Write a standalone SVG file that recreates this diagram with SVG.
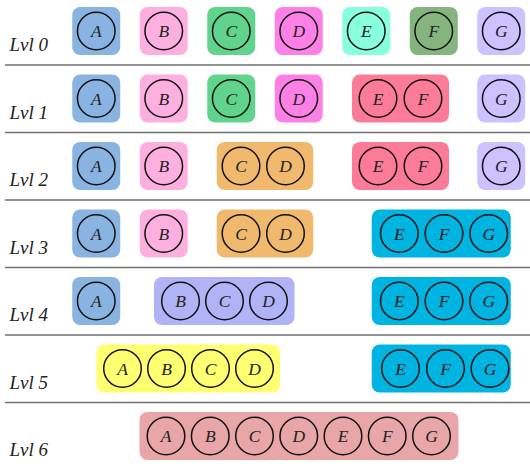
<svg xmlns="http://www.w3.org/2000/svg" width="530" height="469" viewBox="0 0 530 469">
<style>
.bg{fill:#ffffff}
.sep{stroke:#707070;stroke-width:1.6}
.lbl{font-family:"Liberation Serif",serif;font-style:italic;font-size:19px;fill:#222}
.n{fill:none;stroke:#111;stroke-width:1.5}
.t{font-family:"Liberation Serif",serif;font-style:italic;font-size:17.5px;fill:#222;text-anchor:middle}
.cA{fill:#89b4e1}.cB{fill:#fdb0e0}.cC{fill:#60d38c}.cD{fill:#fd80e6}.cE{fill:#88ffde}.cF{fill:#86b47e}.cG{fill:#cdc1ff}
.cEF{fill:#fc7b99}.cCD{fill:#f0b96e}.cEFG{fill:#00b4e1}.cBCD{fill:#b0b4f6}.cABCD{fill:#ffff72}.cALL{fill:#e8a6a8}
</style>
<rect class="bg" x="0" y="0" width="530" height="469"/>
<g id="separators">
<line class="sep" x1="5" y1="65" x2="530" y2="65"/>
<line class="sep" x1="5" y1="132.5" x2="530" y2="132.5"/>
<line class="sep" x1="5" y1="200" x2="530" y2="200"/>
<line class="sep" x1="5" y1="267.5" x2="530" y2="267.5"/>
<line class="sep" x1="5" y1="335" x2="530" y2="335"/>
<line class="sep" x1="5" y1="402.5" x2="530" y2="402.5"/>
</g>
<g id="labels">
<text class="lbl" x="9.5" y="51">Lvl 0</text>
<text class="lbl" x="9.5" y="118.5">Lvl 1</text>
<text class="lbl" x="9.5" y="186">Lvl 2</text>
<text class="lbl" x="9.5" y="253.5">Lvl 3</text>
<text class="lbl" x="9.5" y="321">Lvl 4</text>
<text class="lbl" x="9.5" y="388.5">Lvl 5</text>
<text class="lbl" x="9.5" y="456">Lvl 6</text>
</g>
<!-- Level 0 -->
<g id="l0-A"><rect class="cA" x="72.25" y="7" width="48" height="48" rx="8"/><circle class="n" cx="96.25" cy="31" r="18.8"/><text class="t" x="96.25" y="37">A</text></g>
<g id="l0-B"><rect class="cB" x="139.75" y="7" width="48" height="48" rx="8"/><circle class="n" cx="163.75" cy="31" r="18.8"/><text class="t" x="163.75" y="37">B</text></g>
<g id="l0-C"><rect class="cC" x="207.25" y="7" width="48" height="48" rx="8"/><circle class="n" cx="231.25" cy="31" r="18.8"/><text class="t" x="231.25" y="37">C</text></g>
<g id="l0-D"><rect class="cD" x="274.75" y="7" width="48" height="48" rx="8"/><circle class="n" cx="298.75" cy="31" r="18.8"/><text class="t" x="298.75" y="37">D</text></g>
<g id="l0-E"><rect class="cE" x="342.25" y="7" width="48" height="48" rx="8"/><circle class="n" cx="366.25" cy="31" r="18.8"/><text class="t" x="366.25" y="37">E</text></g>
<g id="l0-F"><rect class="cF" x="409.75" y="7" width="48" height="48" rx="8"/><circle class="n" cx="433.75" cy="31" r="18.8"/><text class="t" x="433.75" y="37">F</text></g>
<g id="l0-G"><rect class="cG" x="477.25" y="7" width="48" height="48" rx="8"/><circle class="n" cx="501.25" cy="31" r="18.8"/><text class="t" x="501.25" y="37">G</text></g>
<!-- Level 1 -->
<g id="l1-A"><rect class="cA" x="72.25" y="74.5" width="48" height="48" rx="8"/><circle class="n" cx="96.25" cy="98.5" r="18.8"/><text class="t" x="96.25" y="104.5">A</text></g>
<g id="l1-B"><rect class="cB" x="139.75" y="74.5" width="48" height="48" rx="8"/><circle class="n" cx="163.75" cy="98.5" r="18.8"/><text class="t" x="163.75" y="104.5">B</text></g>
<g id="l1-C"><rect class="cC" x="207.25" y="74.5" width="48" height="48" rx="8"/><circle class="n" cx="231.25" cy="98.5" r="18.8"/><text class="t" x="231.25" y="104.5">C</text></g>
<g id="l1-D"><rect class="cD" x="274.75" y="74.5" width="48" height="48" rx="8"/><circle class="n" cx="298.75" cy="98.5" r="18.8"/><text class="t" x="298.75" y="104.5">D</text></g>
<g id="l1-EF"><rect class="cEF" x="352" y="74.5" width="97" height="48" rx="8"/><circle class="n" cx="378" cy="98.5" r="18.8"/><text class="t" x="378" y="104.5">E</text><circle class="n" cx="423" cy="98.5" r="18.8"/><text class="t" x="423" y="104.5">F</text></g>
<g id="l1-G"><rect class="cG" x="477.25" y="74.5" width="48" height="48" rx="8"/><circle class="n" cx="501.25" cy="98.5" r="18.8"/><text class="t" x="501.25" y="104.5">G</text></g>
<!-- Level 2 -->
<g id="l2-A"><rect class="cA" x="72.25" y="142" width="48" height="48" rx="8"/><circle class="n" cx="96.25" cy="166" r="18.8"/><text class="t" x="96.25" y="172">A</text></g>
<g id="l2-B"><rect class="cB" x="139.75" y="142" width="48" height="48" rx="8"/><circle class="n" cx="163.75" cy="166" r="18.8"/><text class="t" x="163.75" y="172">B</text></g>
<g id="l2-CD"><rect class="cCD" x="216.75" y="142" width="96.5" height="48" rx="8"/><circle class="n" cx="241" cy="166" r="18.8"/><text class="t" x="241" y="172">C</text><circle class="n" cx="285.5" cy="166" r="18.8"/><text class="t" x="285.5" y="172">D</text></g>
<g id="l2-EF"><rect class="cEF" x="352" y="142" width="97" height="48" rx="8"/><circle class="n" cx="378" cy="166" r="18.8"/><text class="t" x="378" y="172">E</text><circle class="n" cx="423" cy="166" r="18.8"/><text class="t" x="423" y="172">F</text></g>
<g id="l2-G"><rect class="cG" x="477.25" y="142" width="48" height="48" rx="8"/><circle class="n" cx="501.25" cy="166" r="18.8"/><text class="t" x="501.25" y="172">G</text></g>
<!-- Level 3 -->
<g id="l3-A"><rect class="cA" x="72.25" y="209.5" width="48" height="48" rx="8"/><circle class="n" cx="96.25" cy="233.5" r="18.8"/><text class="t" x="96.25" y="239.5">A</text></g>
<g id="l3-B"><rect class="cB" x="139.75" y="209.5" width="48" height="48" rx="8"/><circle class="n" cx="163.75" cy="233.5" r="18.8"/><text class="t" x="163.75" y="239.5">B</text></g>
<g id="l3-CD"><rect class="cCD" x="216.75" y="209.5" width="96.5" height="48" rx="8"/><circle class="n" cx="241" cy="233.5" r="18.8"/><text class="t" x="241" y="239.5">C</text><circle class="n" cx="285.5" cy="233.5" r="18.8"/><text class="t" x="285.5" y="239.5">D</text></g>
<g id="l3-EFG"><rect class="cEFG" x="371.75" y="209.5" width="139" height="48" rx="8"/><circle class="n" cx="399.3" cy="233.5" r="18.8"/><text class="t" x="399.3" y="239.5">E</text><circle class="n" cx="444" cy="233.5" r="18.8"/><text class="t" x="444" y="239.5">F</text><circle class="n" cx="488.7" cy="233.5" r="18.8"/><text class="t" x="488.7" y="239.5">G</text></g>
<!-- Level 4 -->
<g id="l4-A"><rect class="cA" x="72.25" y="277" width="48" height="48" rx="8"/><circle class="n" cx="96.25" cy="301" r="18.8"/><text class="t" x="96.25" y="307">A</text></g>
<g id="l4-BCD"><rect class="cBCD" x="154" y="277" width="140.5" height="48" rx="8"/><circle class="n" cx="180.5" cy="301" r="18.8"/><text class="t" x="180.5" y="307">B</text><circle class="n" cx="224.5" cy="301" r="18.8"/><text class="t" x="224.5" y="307">C</text><circle class="n" cx="268.5" cy="301" r="18.8"/><text class="t" x="268.5" y="307">D</text></g>
<g id="l4-EFG"><rect class="cEFG" x="371.75" y="277" width="139" height="48" rx="8"/><circle class="n" cx="399.3" cy="301" r="18.8"/><text class="t" x="399.3" y="307">E</text><circle class="n" cx="444" cy="301" r="18.8"/><text class="t" x="444" y="307">F</text><circle class="n" cx="488.7" cy="301" r="18.8"/><text class="t" x="488.7" y="307">G</text></g>
<!-- Level 5 -->
<g id="l5-ABCD"><rect class="cABCD" x="96.5" y="344.5" width="183.5" height="48" rx="8"/><circle class="n" cx="122.5" cy="368.5" r="18.8"/><text class="t" x="122.5" y="374.5">A</text><circle class="n" cx="166.5" cy="368.5" r="18.8"/><text class="t" x="166.5" y="374.5">B</text><circle class="n" cx="210.5" cy="368.5" r="18.8"/><text class="t" x="210.5" y="374.5">C</text><circle class="n" cx="254.5" cy="368.5" r="18.8"/><text class="t" x="254.5" y="374.5">D</text></g>
<g id="l5-EFG"><rect class="cEFG" x="371.75" y="344.5" width="139" height="48" rx="8"/><circle class="n" cx="400.5" cy="368.5" r="18.8"/><text class="t" x="400.5" y="374.5">E</text><circle class="n" cx="445.5" cy="368.5" r="18.8"/><text class="t" x="445.5" y="374.5">F</text><circle class="n" cx="490" cy="368.5" r="18.8"/><text class="t" x="490" y="374.5">G</text></g>
<!-- Level 6 -->
<g id="l6-ABCDEFG"><rect class="cALL" x="139.5" y="412" width="319" height="48" rx="8"/>
<circle class="n" cx="166" cy="436" r="18.8"/><text class="t" x="166" y="442">A</text>
<circle class="n" cx="210.25" cy="436" r="18.8"/><text class="t" x="210.25" y="442">B</text>
<circle class="n" cx="254.5" cy="436" r="18.8"/><text class="t" x="254.5" y="442">C</text>
<circle class="n" cx="298.75" cy="436" r="18.8"/><text class="t" x="298.75" y="442">D</text>
<circle class="n" cx="343" cy="436" r="18.8"/><text class="t" x="343" y="442">E</text>
<circle class="n" cx="387.25" cy="436" r="18.8"/><text class="t" x="387.25" y="442">F</text>
<circle class="n" cx="431.5" cy="436" r="18.8"/><text class="t" x="431.5" y="442">G</text></g>
</svg>
